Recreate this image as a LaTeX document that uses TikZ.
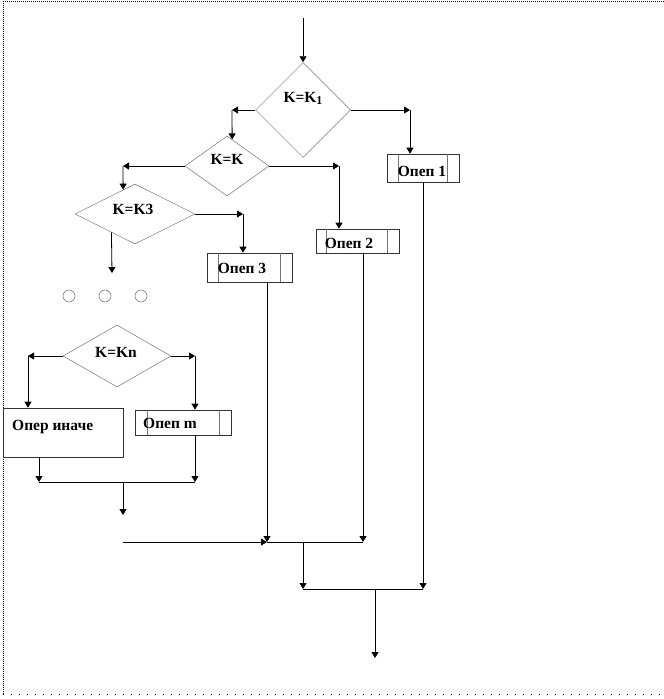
\documentclass[tikz,border=0pt]{standalone}
\usepackage{fontspec}
\setmainfont{Liberation Serif}
\usetikzlibrary{shapes.geometric,arrows.meta}
\begin{document}
\begin{tikzpicture}[x=1pt,y=-1pt,
  ln/.style={draw=black,line width=0.8pt},
  arr/.style={ln,-{Triangle[length=6pt,width=7pt]}},
  dia/.style={diamond,draw=black!55,line width=0.5pt,inner sep=0pt},
  box/.style={rectangle,draw=black!80,line width=0.6pt,inner sep=0pt},
  inl/.style={draw=black!55,line width=0.5pt},
  lbl/.style={font=\bfseries\fontsize{15.5}{17}\selectfont,inner sep=0pt},
  circ/.style={circle,draw=black!60,line width=0.5pt,minimum size=12pt,inner sep=0pt},
  frame/.style={draw=black,line width=0.9pt}
]
\useasboundingbox (0,0) rectangle (664,699);
% frame
\draw[frame,dash pattern=on 1pt off 1pt] (3,1) -- (664,1);
\draw[frame,dash pattern=on 1pt off 1pt] (3,1) -- (3,694);
\draw[frame,dash pattern=on 1pt off 7pt] (3,694) -- (664,694);

% diamonds
\node[dia,minimum width=95pt,minimum height=95pt] (d1) at (303,110) {};
\node[dia,minimum width=84pt,minimum height=60pt] (d2) at (227,166) {};
\node[dia,minimum width=120pt,minimum height=60pt] (d3) at (135,214) {};
\node[dia,minimum width=108pt,minimum height=62pt] (d4) at (117,356) {};
\node[lbl] (t1) at (303,98) {K=K\raisebox{-2pt}{\fontsize{12}{12}\selectfont 1}};
\node[lbl] (t2) at (227,159) {K=K};
\node[lbl] (t3) at (133,209) {K=K3};
\node[lbl] (t4) at (116,352) {K=Kn};

% boxes
\node[box,minimum width=72pt,minimum height=28pt] (b1) at (423,168) {};
\node[box,minimum width=83pt,minimum height=24pt] (b2) at (357.5,241) {};
\node[box,minimum width=85pt,minimum height=29pt] (b3) at (249.5,267.5) {};
\node[box,minimum width=96pt,minimum height=25pt] (bm) at (183,422.5) {};
\node[box,minimum width=120pt,minimum height=49pt] (be) at (63,432.5) {};
\foreach \b/\l/\r in {b1/12/12,b2/11/12,b3/12/12,bm/13/12}{
  \draw[inl] ([xshift=\l pt]\b.north west) -- ([xshift=\l pt]\b.south west);
  \draw[inl] ([xshift=-\r pt]\b.north east) -- ([xshift=-\r pt]\b.south east);
}
\node[lbl] (b1t) at (422,171) {Опеп 1};
\node[lbl] (b2t) at (349,243) {Опеп 2};
\node[lbl] (b3t) at (242,268) {Опеп 3};
\node[lbl] (bmt) at (170,423) {Опеп m};
\node[lbl,anchor=west] (bet) at (12,427) {Опер иначе};

% circles
\node[circ] (o1) at (69,296) {};
\node[circ] (o2) at (105,296) {};
\node[circ] (o3) at (141,296) {};

% coordinates
\coordinate (top) at (303,18);
\coordinate (c1) at (232,110);
\coordinate (c2) at (410,110);
\coordinate (c3) at (123,166);
\coordinate (c4) at (339,166);
\coordinate (c5) at (243,214);
\coordinate (c6) at (112,273);
\coordinate (c7) at (28,356);
\coordinate (c8) at (195,356);
\coordinate (m1l) at (39,482);
\coordinate (m1r) at (195,482);
\coordinate (m1c) at (123,482);
\coordinate (c9) at (123,515);
\coordinate (c10) at (123,542);
\coordinate (m2l) at (267,542);
\coordinate (m2r) at (363,542);
\coordinate (m2c) at (303,542);
\coordinate (m3l) at (303,589);
\coordinate (m3r) at (423,589);
\coordinate (m3c) at (375,589);
\coordinate (endp) at (375,658);

% connectors
\draw[arr] (top) -- (d1.north);
\draw[arr] (d1.west) -- (c1);
\draw[arr] (c1) -- (d2.79.3);
\draw[arr] (d1.east) -- (c2);
\draw[arr] (c2) -- (b1.north -| c2);
\draw[arr] (d2.west) -- (c3);
\draw[arr] (c3) -- (d3.116.6);
\draw[arr] (d2.east) -- (c4);
\draw[arr] (c4) -- (b2.north -| c4);
\draw[arr] (d3.east) -- (c5);
\draw[arr] (c5) -- (b3.north -| c5);
\draw[arr] (d3.218.8) -- (c6);
\draw[arr] (d4.west) -- (c7);
\draw[arr] (c7) -- (be.north -| c7);
\draw[arr] (d4.east) -- (c8);
\draw[arr] (c8) -- (bm.north -| c8);
\draw[arr] (be.south -| m1l) -- (m1l);
\draw[arr] (bm.south -| m1r) -- (m1r);
\draw[ln] (m1l) -- (m1r);
\draw[arr] (m1c) -- (c9);
\draw[arr] (c10) -- (m2l);
\draw[arr] (b3.south -| m2l) -- (m2l);
\draw[arr] (b2.south -| m2r) -- (m2r);
\draw[ln] (m2l) -- (m2r);
\draw[arr] (m2c) -- (m3l);
\draw[arr] (b1.south -| m3r) -- (m3r);
\draw[ln] (m3l) -- (m3r);
\draw[arr] (m3c) -- (endp);
\end{tikzpicture}
\end{document}
